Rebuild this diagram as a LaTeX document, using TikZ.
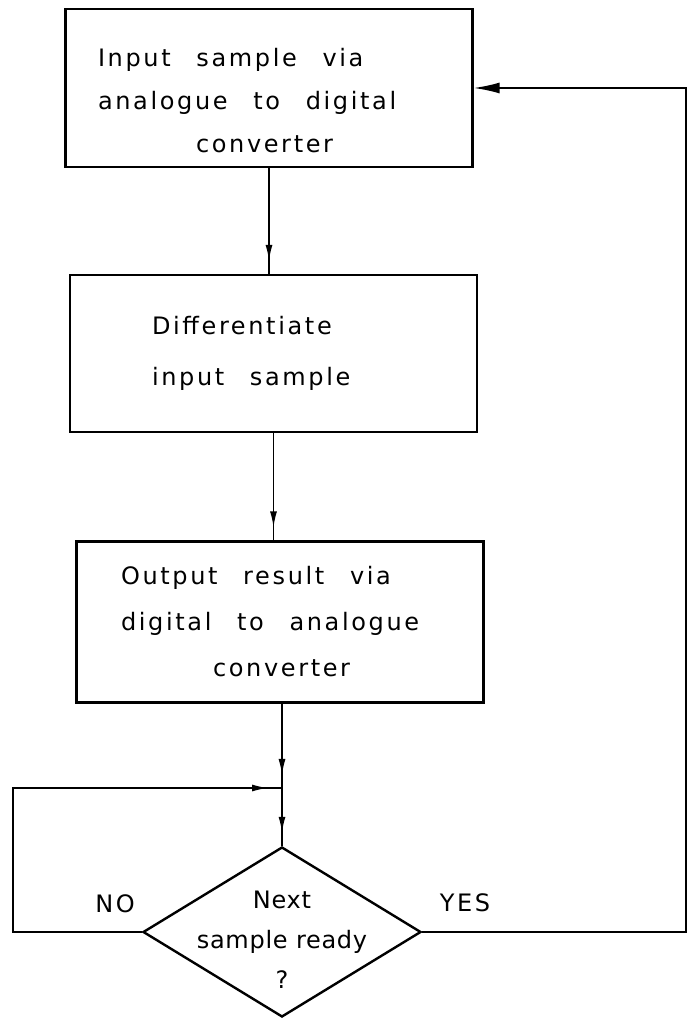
\documentclass[tikz,border=0pt]{standalone}
\usepackage{fontspec}
\usepackage{tikz}
\usetikzlibrary{shapes.geometric, arrows.meta, positioning, decorations.markings}

\newfontfamily\lettering[LetterSpace=11,WordSpace=2.5]{DejaVu Sans}
\newfontfamily\letteringtight[LetterSpace=3,WordSpace=1]{DejaVu Sans}

\begin{document}
\begin{tikzpicture}[
  x=1pt, y=1pt,
  stepbox/.style={
    rectangle, draw=black, fill=white,
    minimum width=407pt, minimum height=158pt,
    align=flush left, line width=2.2pt,
    font=\lettering\fontsize{24}{43}\selectfont
  },
  decision/.style={
    diamond, draw=black, fill=white,
    minimum width=278pt, minimum height=170pt,
    inner sep=0pt, line width=2.4pt
  },
  qtext/.style={align=center, font=\letteringtight\fontsize{24}{40}\selectfont},
  lbl/.style={font=\lettering\fontsize{24}{28}\selectfont},
  arr/.style={
    draw=black, line width=1.6pt, postaction=decorate,
    decoration={markings,
      mark=at position -#1 with {\arrow{Latex[length=16pt,width=7pt]}}}
  },
  arr/.default=13pt,
  ret/.style={draw=black, line width=1.8pt, -{Latex[length=26pt,width=11pt]}}
]
\useasboundingbox (0,0) rectangle (698,1019);

% ── Cajas ─────────────────────────────────────────────────────
\node[stepbox, text width=342pt] (in) at (269, 931)
  {\rule{0pt}{43pt}Input sample via\\analogue to digital\\\hspace*{98pt}converter};
\node[stepbox, minimum height=157pt, text width=243pt,
      font=\lettering\fontsize{24}{51}\selectfont] (diff) at (273.5, 665.5)
  {Differentiate\\input sample};
\node[stepbox, minimum height=161pt, text width=318pt,
      font=\lettering\fontsize{24}{46}\selectfont] (out) at (280, 397)
  {Output result via\\digital to analogue\\\hspace*{92pt}converter};

% ── Decisión ──────────────────────────────────────────────────
\node[decision] (ready) at (282, 87) {};
\node[qtext] (q) at ([yshift=-8pt]ready.center) {Next\\sample ready\\?};
\node[lbl] (no)  at (115, 115) {NO};
\node[lbl] (yes) at (465, 116) {YES};

% ── Puntos de paso ────────────────────────────────────────────
\coordinate (join) at (282, 231);
\coordinate (back) at (13, 87);
\coordinate (turn) at (686, 87);

% ── Flechas ───────────────────────────────────────────────────
\draw[arr] (in.south) -- (in.south |- diff.north);
\draw[arr] (diff.south) -- (diff.south |- out.north);
\draw[arr] (out.south -| join) -- (join);
\draw[arr] (join) -- (ready.north);

% NO: vuelve a esperar
\draw[arr=14pt] (ready.west) -- (back) |- (join);

% YES: siguiente muestra
\draw[ret] (ready.east) -- (turn) |- (in.east);

\end{tikzpicture}
\end{document}
